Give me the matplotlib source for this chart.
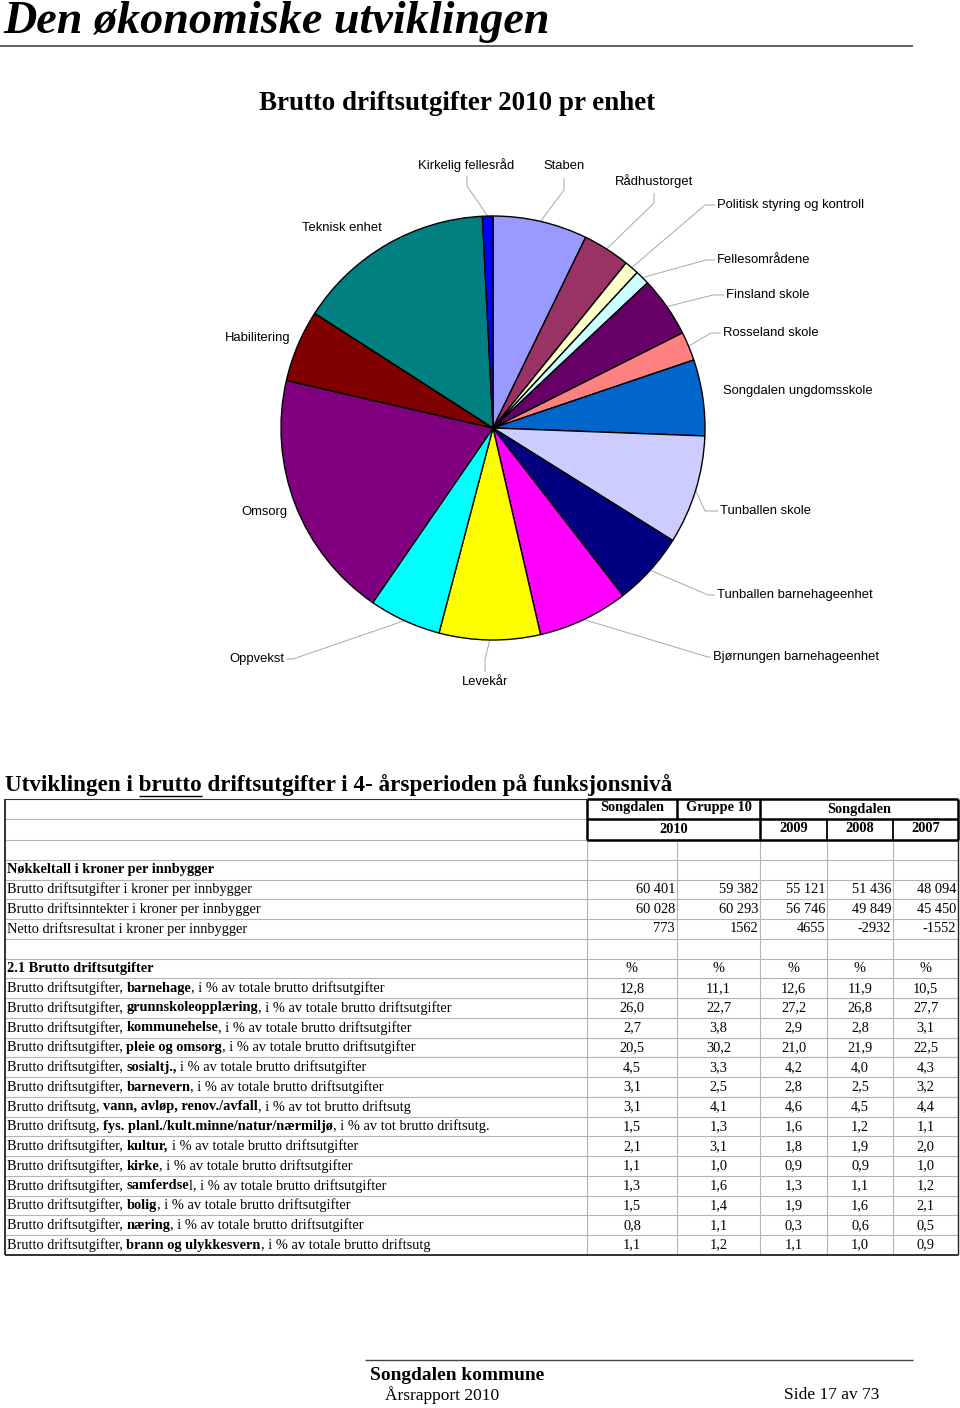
import matplotlib
matplotlib.use("Agg")
import matplotlib.pyplot as plt
import numpy as np

# ------------------------------------------------------------------ data
unit_labels = ["Staben", "Rådhustorget", "Politisk styring og kontroll", "Fellesområdene",
               "Finsland skole", "Rosseland skole", "Songdalen ungdomsskole", "Tunballen skole",
               "Tunballen barnehageenhet", "Bjørnungen barnehageenhet", "Levekår", "Oppvekst",
               "Omsorg", "Habilitering", "Teknisk enhet", "Kirkelig fellesråd"]
unit_shares = [7.2, 3.6, 1.1, 1.1, 4.6, 2.2, 5.8, 8.3, 5.6, 6.9, 7.7, 5.5, 19.0, 5.5, 15.1, 0.8]

key_labels = ["Brutto driftsutgifter i kroner per innbygger",
              "Brutto driftsinntekter i kroner per innbygger",
              "Netto driftsresultat i kroner per innbygger"]
key_songdalen_2010 = [60401, 60028, 773]
key_gruppe10_2010 = [59382, 60293, 1562]
key_songdalen_2009 = [55121, 56746, 4655]
key_songdalen_2008 = [51436, 49849, -2932]
key_songdalen_2007 = [48094, 45450, -1552]

pct_labels = [
    "Brutto driftsutgifter, **barnehage**, i % av totale brutto driftsutgifter",
    "Brutto driftsutgifter, **grunnskoleopplæring**, i % av totale brutto driftsutgifter",
    "Brutto driftsutgifter, **kommunehelse**, i % av totale brutto driftsutgifter",
    "Brutto driftsutgifter, **pleie og omsorg**, i % av totale brutto driftsutgifter",
    "Brutto driftsutgifter, **sosialtj.,** i % av totale brutto driftsutgifter",
    "Brutto driftsutgifter, **barnevern**, i % av totale brutto driftsutgifter",
    "Brutto driftsutg, **vann, avløp, renov./avfall**, i % av tot brutto driftsutg",
    "Brutto driftsutg, **fys. planl./kult.minne/natur/nærmiljø**, i % av tot brutto driftsutg.",
    "Brutto driftsutgifter, **kultur,** i % av totale brutto driftsutgifter",
    "Brutto driftsutgifter, **kirke**, i % av totale brutto driftsutgifter",
    "Brutto driftsutgifter, **samferdse**l, i % av totale brutto driftsutgifter",
    "Brutto driftsutgifter, **bolig**, i % av totale brutto driftsutgifter",
    "Brutto driftsutgifter, **næring**, i % av totale brutto driftsutgifter",
    "Brutto driftsutgifter, **brann og ulykkesvern**, i % av totale brutto driftsutg",
]
pct_songdalen_2010 = [12.8, 26.0, 2.7, 20.5, 4.5, 3.1, 3.1, 1.5, 2.1, 1.1, 1.3, 1.5, 0.8, 1.1]
pct_gruppe10_2010 = [11.1, 22.7, 3.8, 30.2, 3.3, 2.5, 4.1, 1.3, 3.1, 1.0, 1.6, 1.4, 1.1, 1.2]
pct_songdalen_2009 = [12.6, 27.2, 2.9, 21.0, 4.2, 2.8, 4.6, 1.6, 1.8, 0.9, 1.3, 1.9, 0.3, 1.1]
pct_songdalen_2008 = [11.9, 26.8, 2.8, 21.9, 4.0, 2.5, 4.5, 1.2, 1.9, 0.9, 1.1, 1.6, 0.6, 1.0]
pct_songdalen_2007 = [10.5, 27.7, 3.1, 22.5, 4.3, 3.2, 4.4, 1.1, 2.0, 1.0, 1.2, 2.1, 0.5, 0.9]

# ------------------------------------------------------------------ style
unit_colors = ["#9999FF", "#993366", "#FFFFCC", "#CCFFFF", "#660066", "#FF8080", "#0066CC",
               "#CCCCFF", "#000080", "#FF00FF", "#FFFF00", "#00FFFF", "#800080", "#800000",
               "#008080", "#0000FF"]
SERIF = "Liberation Serif"
SANS = "Liberation Sans"
GRID = "#b4b4b4"

W, H = 960, 1408
fig = plt.figure(figsize=(W / 100, H / 100), dpi=100)
ax = fig.add_axes([0, 0, 1, 1])
ax.set_xlim(0, W)
ax.set_ylim(H, 0)
ax.axis("off")
renderer = fig.canvas.get_renderer()


def text_width(s, **kw):
    t = ax.text(0, 0, s, **kw)
    w = t.get_window_extent(renderer).width
    t.remove()
    return w


def fit_text(x, y, s, width, ha="left", va="center", **kw):
    w = text_width(s, fontsize=20, **kw)
    fs = 20 * width / w
    return ax.text(x, y, s, fontsize=fs, ha=ha, va=va, **kw), fs


def rich_text(x, y, s, fontsize, family=SERIF):
    parts = s.split("**")
    for i, p in enumerate(parts):
        if not p:
            continue
        weight = "bold" if i % 2 else "normal"
        sp = text_width("a a", fontsize=fontsize, fontweight=weight, family=family) - \
             text_width("aa", fontsize=fontsize, fontweight=weight, family=family)
        lead = len(p) - len(p.lstrip(" "))
        trail = len(p) - len(p.rstrip(" "))
        core = p.strip(" ")
        x += lead * sp
        t = ax.text(x, y, core, fontsize=fontsize, fontweight=weight, family=family,
                    ha="left", va="center")
        x += t.get_window_extent(renderer).width + trail * sp
    return x


def line(xs, ys, color="black", lw=0.8):
    ax.plot(xs, ys, color=color, lw=lw, solid_capstyle="butt")


# ------------------------------------------------------------------ page header
fit_text(3, 22, "Den økonomiske utviklingen", 546, family=SERIF, fontweight="bold",
         fontstyle="italic")
line([0, 913], [46, 46], color="#444444", lw=1.2)
fit_text(457, 103, "Brutto driftsutgifter 2010 pr enhet", 396, ha="center", family=SERIF,
         fontweight="bold")

# ------------------------------------------------------------------ pie
cx, cy, R = 493, 428, 212
ax_pie = fig.add_axes([(cx - R) / W, 1 - (cy + R) / H, 2 * R / W, 2 * R / H])
wedges, _ = ax_pie.pie(unit_shares, colors=unit_colors, startangle=90, counterclock=False,
                       wedgeprops=dict(edgecolor="black", linewidth=1.0), radius=1)
ax_pie.set_xlim(-1, 1)
ax_pie.set_ylim(-1, 1)
ax_pie.axis("off")
for w in wedges:
    w.set_clip_on(False)

# label layout: text position, alignment, leader elbow points (pixels)
label_layout = {
    "Kirkelig fellesråd": ((466, 165), "center", [(467, 186), (467, 176)]),
    "Staben": ((564, 166), "center", [(564, 190), (564, 178)]),
    "Rådhustorget": ((654, 181), "center", [(654, 203), (654, 193)]),
    "Politisk styring og kontroll": ((717, 205), "left", [(705, 205), (715, 205)]),
    "Fellesområdene": ((717, 260), "left", [(706, 260), (715, 260)]),
    "Finsland skole": ((726, 295), "left", [(713, 295), (724, 295)]),
    "Rosseland skole": ((723, 333), "left", [(711, 333), (721, 333)]),
    "Songdalen ungdomsskole": ((723, 391), "left", None),
    "Tunballen skole": ((720, 511), "left", [(705, 511), (718, 511)]),
    "Tunballen barnehageenhet": ((717, 595), "left", [(708, 595), (715, 595)]),
    "Bjørnungen barnehageenhet": ((713, 657), "left", [(708, 657), (711, 657)]),
    "Levekår": ((485, 682), "center", [(485, 660), (485, 672)]),
    "Oppvekst": ((284, 659), "right", [(293, 659), (286, 659)]),
    "Omsorg": ((288, 512), "right", None),
    "Habilitering": ((291, 338), "right", None),
    "Teknisk enhet": ((342, 228), "center", None),
}
for lab, w in zip(unit_labels, wedges):
    (tx, ty), ha, elbow = label_layout[lab]
    ax.text(tx, ty, lab, fontsize=9.35, family=SANS, ha=ha, va="center", color="black")
    if elbow:
        mid = np.deg2rad((w.theta1 + w.theta2) / 2)
        px, py = cx + R * np.cos(mid), cy - R * np.sin(mid)
        xs = [px] + [e[0] for e in elbow]
        ys = [py] + [e[1] for e in elbow]
        line(xs, ys, color="#a8a8a8", lw=0.7)

# ------------------------------------------------------------------ table
t_title = "Utviklingen i brutto driftsutgifter i 4- årsperioden på funksjonsnivå"
_, tfs = fit_text(5, 785, t_title, 667, family=SERIF, fontweight="bold")
u0 = 5 + text_width("Utviklingen i ", fontsize=tfs, family=SERIF, fontweight="bold")
u1 = 5 + text_width("Utviklingen i brutto", fontsize=tfs, family=SERIF, fontweight="bold")
line([u0, u1], [796, 796], lw=1.0)

X = [5, 587, 677, 760, 827, 893, 958]
top, hmid, hbot = 799, 819, 840
rh = (1255 - hbot) / 21
rows_y = [hbot + i * rh for i in range(22)]
bottom = rows_y[-1]

# grid lines
for yy in rows_y[1:-1]:
    line([X[0], X[-1]], [yy, yy], color=GRID, lw=0.8)
for yy in [hmid, hbot]:
    line([X[0], X[1]], [yy, yy], color=GRID, lw=0.8)
for xx in X[1:-1]:
    line([xx, xx], [hbot, bottom], color=GRID, lw=0.8)
# outer border
line([X[0], X[1]], [top, top], color="#333333", lw=0.8)
line([X[0], X[0]], [top, bottom], color="#222222", lw=1.3)
line([X[-1], X[-1]], [hbot, bottom], color="#222222", lw=1.0)
line([X[0], X[-1]], [bottom, bottom], color="#222222", lw=1.3)
# header box
thick = 1.8
line([X[1], X[-1]], [top, top], lw=thick)
line([X[1], X[-1]], [hmid, hmid], lw=thick)
line([X[1], X[-1]], [hbot, hbot], lw=thick)
line([X[1], X[1]], [top, hbot], lw=thick)
line([X[-1], X[-1]], [top, hbot], lw=thick)
line([X[3], X[3]], [top, hbot], lw=thick)
line([X[2], X[2]], [top, hmid], lw=thick)
line([X[4], X[4]], [hmid, hbot], lw=1.3)
line([X[5], X[5]], [hmid, hbot], lw=1.3)

HFS = 10.4
hy1 = (top + hmid) / 2 - 1
hy2 = (hmid + hbot) / 2 - 1
ax.text((X[1] + X[2]) / 2, hy1, "Songdalen", fontsize=HFS, fontweight="bold", family=SERIF,
        ha="center", va="center")
ax.text((X[2] + X[3]) / 2, hy1, "Gruppe 10", fontsize=HFS, fontweight="bold", family=SERIF,
        ha="center", va="center")
ax.text((X[3] + X[6]) / 2, hy1 + 2, "Songdalen", fontsize=HFS, fontweight="bold", family=SERIF,
        ha="center", va="center")
ax.text((X[1] + X[3]) / 2, hy2 + 1, "2010", fontsize=HFS, fontweight="bold", family=SERIF,
        ha="center", va="center")
for j, yr in enumerate(["2009", "2008", "2007"]):
    ax.text((X[3 + j] + X[4 + j]) / 2, hy2, yr, fontsize=HFS, fontweight="bold", family=SERIF,
            ha="center", va="center")

FS = 10.35


def row_c(i):
    return (rows_y[i] + rows_y[i + 1]) / 2


def fmt_int(v):
    return f"{v:,}".replace(",", " ") if abs(v) >= 10000 else str(v)


def fmt_pct(v):
    return f"{v:.1f}".replace(".", ",")


ax.text(7, row_c(1), "Nøkkeltall i kroner per innbygger", fontsize=FS, fontweight="bold",
        family=SERIF, ha="left", va="center")
key_cols = [key_songdalen_2010, key_gruppe10_2010, key_songdalen_2009, key_songdalen_2008,
            key_songdalen_2007]
for r, lab in enumerate(key_labels):
    yc = row_c(2 + r)
    ax.text(7, yc, lab, fontsize=FS, family=SERIF, ha="left", va="center")
    for c, col in enumerate(key_cols):
        ax.text(X[2 + c] - 2, yc, fmt_int(col[r]), fontsize=FS, family=SERIF, ha="right",
                va="center")

yc = row_c(6)
ax.text(7, yc, "2.1 Brutto driftsutgifter", fontsize=FS, fontweight="bold", family=SERIF,
        ha="left", va="center")
for c in range(5):
    ax.text((X[1 + c] + X[2 + c]) / 2, yc, "%", fontsize=FS, family=SERIF, ha="center",
            va="center")
pct_cols = [pct_songdalen_2010, pct_gruppe10_2010, pct_songdalen_2009, pct_songdalen_2008,
            pct_songdalen_2007]
for r, lab in enumerate(pct_labels):
    yc = row_c(7 + r)
    rich_text(7, yc, lab, FS)
    for c, col in enumerate(pct_cols):
        ax.text((X[1 + c] + X[2 + c]) / 2, yc, fmt_pct(col[r]), fontsize=FS, family=SERIF,
                ha="center", va="center")

# ------------------------------------------------------------------ footer
line([365, 913], [1360, 1360], color="#444444", lw=1.0)
fit_text(370, 1375, "Songdalen kommune", 174, family=SERIF, fontweight="bold")
fit_text(385, 1395, "Årsrapport 2010", 114, family=SERIF)
fit_text(784, 1395, "Side 17 av 73", 95, family=SERIF)

fig.savefig("out.png", dpi=100)
